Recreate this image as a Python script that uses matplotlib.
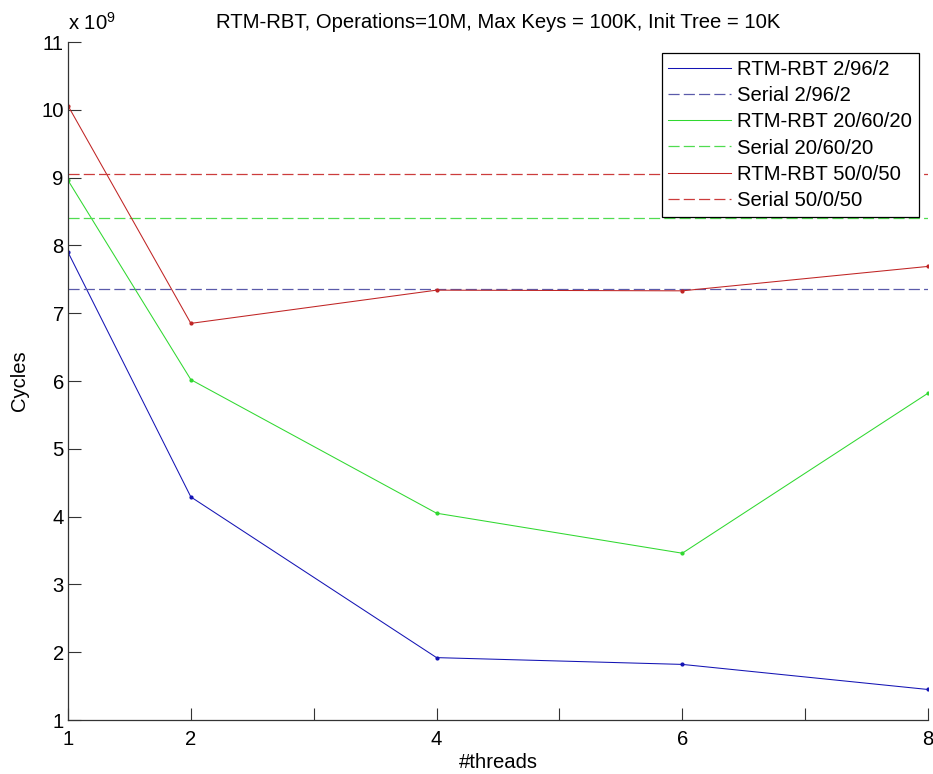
# RTM-RBT 线程数与周期数折线图（仿 MATLAB 风格）
import matplotlib
matplotlib.use('Agg')
import matplotlib.pyplot as plt
from matplotlib.ticker import FixedLocator

# 数据（单位：10^9 cycles）
threads = [1, 2, 4, 6, 8]
rtm_2_96_2 = [7.90, 4.29, 1.92, 1.82, 1.45]
rtm_20_60_20 = [8.96, 6.02, 4.05, 3.46, 5.82]
rtm_50_0_50 = [10.06, 6.85, 7.34, 7.33, 7.69]
serial_2_96_2 = 7.36
serial_20_60_20 = 8.40
serial_50_0_50 = 9.06

labels = ['RTM-RBT 2/96/2', 'Serial 2/96/2',
          'RTM-RBT 20/60/20', 'Serial 20/60/20',
          'RTM-RBT 50/0/50', 'Serial 50/0/50']
x_ticks = [1, 2, 4, 6, 8]
x_minor = [3, 5, 7]
y_ticks = [1, 2, 3, 4, 5, 6, 7, 8, 9, 10, 11]

plt.rcParams['font.family'] = ['Liberation Sans', 'DejaVu Sans']
plt.rcParams['mathtext.fontset'] = 'custom'
plt.rcParams['mathtext.rm'] = 'Liberation Sans'
plt.rcParams['lines.scale_dashes'] = False

fs = 14.6
fig = plt.figure(figsize=(9.33, 7.74), dpi=100)
ax = fig.add_axes([68 / 933, 1 - 720 / 774, 860 / 933, 678 / 774])

blue, green, red = '#1414b4', '#30d830', '#c02424'
dash = (8, 3)

ax.plot(threads, rtm_2_96_2, color=blue, lw=0.75, marker='.', ms=4, label=labels[0])
ax.axhline(serial_2_96_2, color='#5a5aaa', lw=0.9, dashes=dash, label=labels[1])
ax.plot(threads, rtm_20_60_20, color=green, lw=0.75, marker='.', ms=4, label=labels[2])
ax.axhline(serial_20_60_20, color='#50dc50', lw=0.9, dashes=dash, label=labels[3])
ax.plot(threads, rtm_50_0_50, color=red, lw=0.75, marker='.', ms=4, label=labels[4])
ax.axhline(serial_50_0_50, color='#cc3c3c', lw=0.9, dashes=dash, label=labels[5])

ax.set_xlim(1, 8)
ax.set_ylim(1, 11)
ax.set_xticks(x_ticks)
ax.xaxis.set_minor_locator(FixedLocator(x_minor))
ax.set_yticks(y_ticks)
ax.tick_params(which='both', direction='in', length=9, width=0.8, color='#333333',
               labelsize=fs)
ax.tick_params(axis='x', which='both', pad=7)
ax.tick_params(axis='y', pad=3)
for s in ['top', 'right']:
    ax.spines[s].set_visible(False)
for s in ['left', 'bottom']:
    ax.spines[s].set_color('#333333')
    ax.spines[s].set_linewidth(0.9)

ax.set_xlabel('#threads', fontsize=fs, labelpad=3)
ax.set_ylabel('Cycles', fontsize=fs, labelpad=9)
ax.set_title('RTM-RBT, Operations=10M, Max Keys = 100K, Init Tree = 10K', fontsize=fs, pad=10)
ax.text(0, 1.012, r'x 10$^{9}$', transform=ax.transAxes, fontsize=fs, ha='left', va='bottom')

leg = ax.legend(loc='upper right', bbox_to_anchor=(919 / 933, 1 - 53 / 774),
                bbox_transform=fig.transFigure, borderaxespad=0, fontsize=fs,
                fancybox=False, framealpha=1, edgecolor='black', handlelength=3.1,
                handletextpad=0.3, labelspacing=0.36, borderpad=0.33)
leg.get_frame().set_linewidth(0.9)
for h in leg.legend_handles:
    h.set_marker('')

fig.savefig('out.png', dpi=100)
